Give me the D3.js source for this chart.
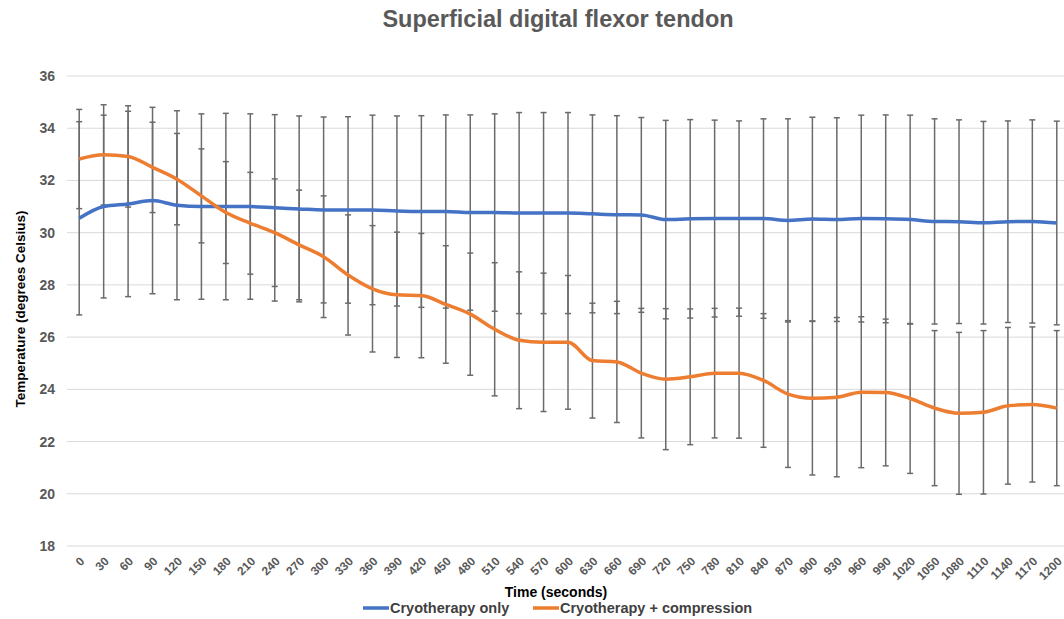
<!DOCTYPE html>
<html>
<head>
<meta charset="utf-8">
<script src="https://cdn.jsdelivr.net/npm/d3@7"></script>
<style>
  body { margin: 0; background: #fff; }
  svg { font-family: "Liberation Sans", Arial, Helvetica, sans-serif; }
</style>
</head>
<body>
<svg id="chart" width="1064" height="619"></svg>
<script>
// time points (seconds)
const times = ["0","30","60","90","120","150","180","210","240","270","300","330","360","390","420","450","480","510","540","570","600","630","660","690","720","750","780","810","840","870","900","930","960","990","1020","1050","1080","1110","1140","1170","1200"];

// Cryotherapy only
const cryoMean = [30.55,31.0,31.1,31.23,31.05,31.0,31.0,31.0,30.95,30.91,30.87,30.87,30.87,30.83,30.81,30.81,30.77,30.77,30.75,30.75,30.75,30.72,30.69,30.68,30.5,30.53,30.54,30.54,30.54,30.47,30.52,30.5,30.54,30.53,30.5,30.43,30.42,30.38,30.42,30.43,30.37];
const cryoSd = [3.7,3.5,3.55,3.57,3.62,3.55,3.57,3.55,3.57,3.56,3.56,3.57,3.63,3.64,3.67,3.7,3.74,3.78,3.85,3.85,3.85,3.79,3.79,3.73,3.8,3.8,3.77,3.74,3.82,3.89,3.9,3.9,3.96,3.98,4.0,3.93,3.9,3.88,3.86,3.89,3.9];

// Cryotherapy + compression
const compMean = [32.82,32.98,32.92,32.5,32.05,31.41,30.77,30.36,30.0,29.53,29.08,28.38,27.85,27.62,27.59,27.25,26.88,26.3,25.88,25.8,25.8,25.1,25.05,24.62,24.39,24.48,24.62,24.62,24.34,23.82,23.66,23.7,23.89,23.88,23.65,23.28,23.08,23.12,23.37,23.42,23.28];
const compSd = [1.9,1.92,1.94,1.73,1.75,1.8,1.95,1.95,2.06,2.1,2.33,2.3,2.42,2.4,2.38,2.25,2.34,2.55,2.62,2.65,2.56,2.2,2.32,2.48,2.7,2.6,2.48,2.49,2.56,2.81,2.94,3.05,2.89,2.81,2.87,2.97,3.1,3.13,3.0,2.97,2.97];

const yTicks = [18,20,22,24,26,28,30,32,34,36];

const series = [
  {name: "Cryotherapy only", mean: cryoMean, sd: cryoSd, color: "#4472C4"},
  {name: "Cryotherapy + compression", mean: compMean, sd: compSd, color: "#ED7D31"}
];

const svg = d3.select("#chart");
const plotLeft = 67, plotRight = 1069, plotTop = 76, plotBottom = 546;

const x = d3.scaleBand().domain(times).range([plotLeft, plotRight]);
const y = d3.scaleLinear().domain([18, 36]).range([plotBottom, plotTop]);
const cx = d => x(d) + x.bandwidth() / 2;

// title
svg.append("text")
  .attr("x", 558).attr("y", 27)
  .attr("text-anchor", "middle")
  .attr("font-size", 23.5).attr("font-weight", "bold")
  .attr("fill", "#595959")
  .text("Superficial digital flexor tendon");

// grid
svg.append("g").selectAll("line")
  .data(yTicks)
  .enter().append("line")
  .attr("x1", plotLeft).attr("x2", 1064)
  .attr("y1", d => y(d)).attr("y2", d => y(d))
  .attr("stroke", "#d9d9d9").attr("stroke-width", 1);

// y axis
const yAxis = svg.append("g")
  .attr("transform", "translate(" + (plotLeft - 10) + ",0)")
  .call(d3.axisLeft(y).tickValues(yTicks).tickSize(0).tickPadding(2));
yAxis.select(".domain").remove();
yAxis.selectAll("text")
  .attr("font-size", 14).attr("font-weight", "bold")
  .attr("fill", "#595959").attr("font-family", null);

svg.append("text")
  .attr("transform", "translate(25,309) rotate(-90)")
  .attr("text-anchor", "middle")
  .attr("font-size", 13.5).attr("font-weight", "bold")
  .attr("fill", "#000")
  .text("Temperature (degrees Celsius)");

// x axis labels
const xAxis = svg.append("g")
  .attr("transform", "translate(0," + (plotBottom + 10) + ")")
  .call(d3.axisBottom(x).tickSize(0).tickPadding(0));
xAxis.select(".domain").remove();
xAxis.selectAll("text")
  .attr("font-size", 12).attr("font-weight", "bold")
  .attr("fill", "#595959").attr("font-family", null)
  .attr("text-anchor", "end")
  .attr("dy", "0.7em")
  .attr("transform", "translate(0,0) rotate(-45)");

svg.append("text")
  .attr("x", 556).attr("y", 597)
  .attr("text-anchor", "middle")
  .attr("font-size", 14).attr("font-weight", "bold")
  .attr("fill", "#000")
  .text("Time (seconds)");

// error bars
series.forEach(s => {
  const g = svg.append("g").attr("stroke", "#6b6b6b").attr("stroke-width", 1.5);
  times.forEach((t, i) => {
    const hi = y(s.mean[i] + s.sd[i]), lo = y(s.mean[i] - s.sd[i]);
    g.append("line").attr("x1", cx(t)).attr("x2", cx(t)).attr("y1", hi).attr("y2", lo);
    g.append("line").attr("x1", cx(t) - 3).attr("x2", cx(t) + 3).attr("y1", hi).attr("y2", hi);
    g.append("line").attr("x1", cx(t) - 3).attr("x2", cx(t) + 3).attr("y1", lo).attr("y2", lo);
  });
});

// lines
const line = d3.line().curve(d3.curveMonotoneX);
series.forEach(s => {
  svg.append("path")
    .attr("d", line(times.map((t, i) => [cx(t), y(s.mean[i])])))
    .attr("fill", "none")
    .attr("stroke", s.color)
    .attr("stroke-width", 3.5)
    .attr("stroke-linejoin", "round");
});

// legend
const legend = svg.append("g").attr("transform", "translate(0,608)");
const legX = [363, 533];
series.forEach((s, i) => {
  legend.append("line")
    .attr("x1", legX[i]).attr("x2", legX[i] + 26)
    .attr("stroke", s.color).attr("stroke-width", 3.5);
  legend.append("text")
    .attr("x", legX[i] + 27).attr("y", 5)
    .attr("font-size", 14.5).attr("font-weight", "bold")
    .attr("fill", "#404040")
    .text(s.name);
});
</script>
</body>
</html>
